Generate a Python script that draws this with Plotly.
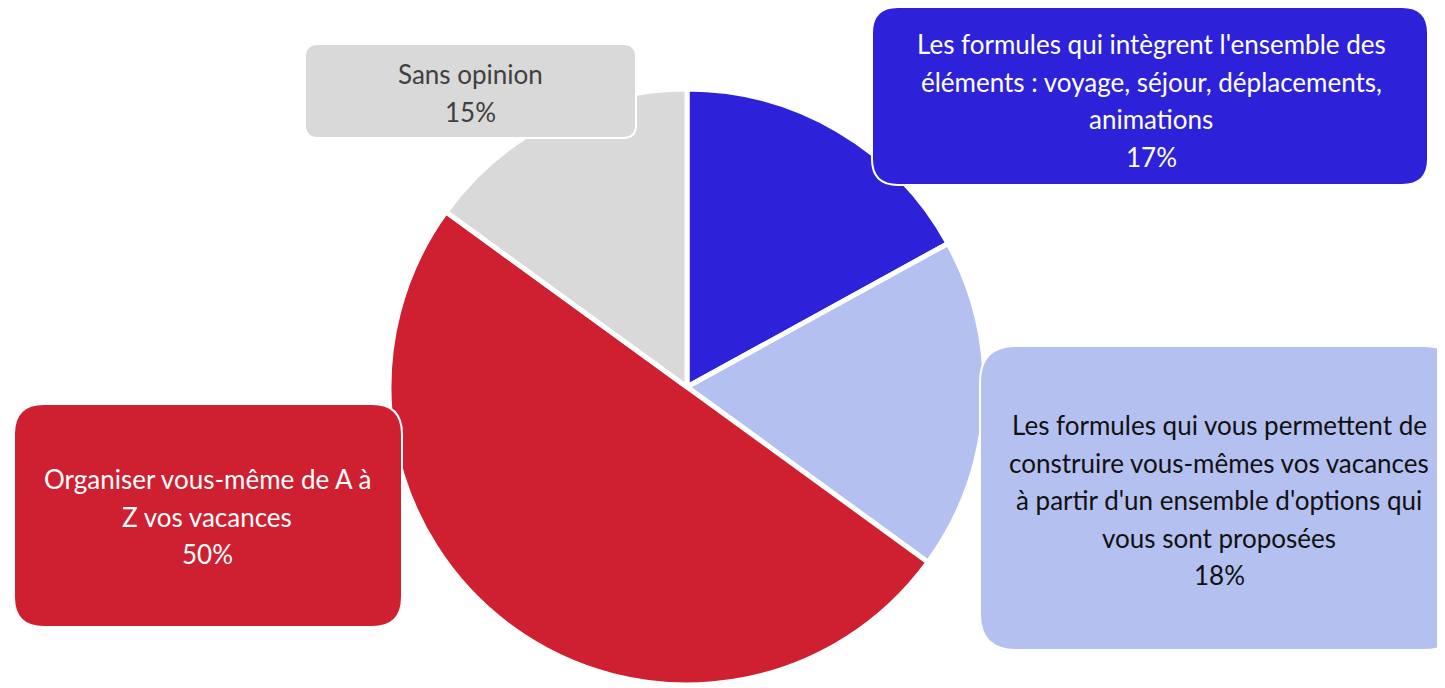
import plotly.graph_objects as go

W, H = 1445, 688
OFF = 8  # page body margin around the plot div

labels = [
    "Les formules qui intègrent l'ensemble des<br>éléments : voyage, séjour, déplacements,<br>animations",
    "Les formules qui vous permettent de<br>construire vous-mêmes vos vacances<br>à partir d'un ensemble d'options qui<br>vous sont proposées",
    "Organiser vous-même de A à<br>Z vos vacances",
    "Sans opinion",
]
values = [17, 18, 50, 15]
colors = ["#2D22D9", "#B4C0F0", "#CE2030", "#D9D9D9"]
text_colors = ["#FFFFFF", "#111111", "#FFFFFF", "#404040"]

# label boxes in screen pixels: x0, y0, x1, y1, corner radius, text centre x, first line y
BOXES = [
    (872, 7, 1428, 185, 26, 1151, 44),
    (980, 346, 1460, 650, 36, 1219, 425),
    (14, 404, 402, 627, 30, 207, 479),
    (305, 44, 636, 138, 13, 470, 74),
]
LINE_H = 37.5
FONT = "Lato"


def px(x):
    return (x - OFF) / W


def py(y):
    return 1 - (y - OFF) / H


def rounded_rect(x0, y0, x1, y1, r):
    pts = [
        ("M", px(x0 + r), py(y0)),
        ("L", px(x1 - r), py(y0)),
        ("Q", px(x1), py(y0), px(x1), py(y0 + r)),
        ("L", px(x1), py(y1 - r)),
        ("Q", px(x1), py(y1), px(x1 - r), py(y1)),
        ("L", px(x0 + r), py(y1)),
        ("Q", px(x0), py(y1), px(x0), py(y1 - r)),
        ("L", px(x0), py(y0 + r)),
        ("Q", px(x0), py(y0), px(x0 + r), py(y0)),
    ]
    out = []
    for cmd, *c in pts:
        coords = " ".join(f"{c[i]:.5f},{c[i + 1]:.5f}" for i in range(0, len(c), 2))
        out.append(f"{cmd}{coords}")
    return " ".join(out) + " Z"


cx, cy, rad = 687, 387, 298

fig = go.Figure()
fig.add_trace(go.Pie(
    labels=[l.replace("<br>", " ") for l in labels],
    values=values,
    sort=False,
    direction="clockwise",
    rotation=0,
    marker=dict(colors=colors, line=dict(color="#FFFFFF", width=5)),
    textinfo="none",
    showlegend=False,
    domain=dict(x=[px(cx - rad), px(cx + rad)], y=[py(cy + rad), py(cy - rad)]),
))

shapes = []
annotations = []
for lab, val, col, tcol, box in zip(labels, values, colors, text_colors, BOXES):
    x0, y0, x1, y1, r, tx, ty = box
    shapes.append(dict(
        type="path", xref="paper", yref="paper",
        path=rounded_rect(x0, y0, x1, y1, r),
        fillcolor=col, line=dict(color="#FFFFFF", width=2), layer="above",
    ))
    lines = lab.split("<br>") + [f"{val}%"]
    for i, line in enumerate(lines):
        annotations.append(dict(
            x=px(tx), y=py(ty + i * LINE_H), xref="paper", yref="paper",
            text=line, showarrow=False, xanchor="center", yanchor="middle",
            font=dict(family=FONT, size=26, color=tcol),
        ))

fig.update_layout(
    width=W, height=H,
    margin=dict(l=0, r=0, t=0, b=0),
    paper_bgcolor="#FFFFFF",
    plot_bgcolor="#FFFFFF",
    shapes=shapes,
    annotations=annotations,
)

fig.write_html("out.html")
